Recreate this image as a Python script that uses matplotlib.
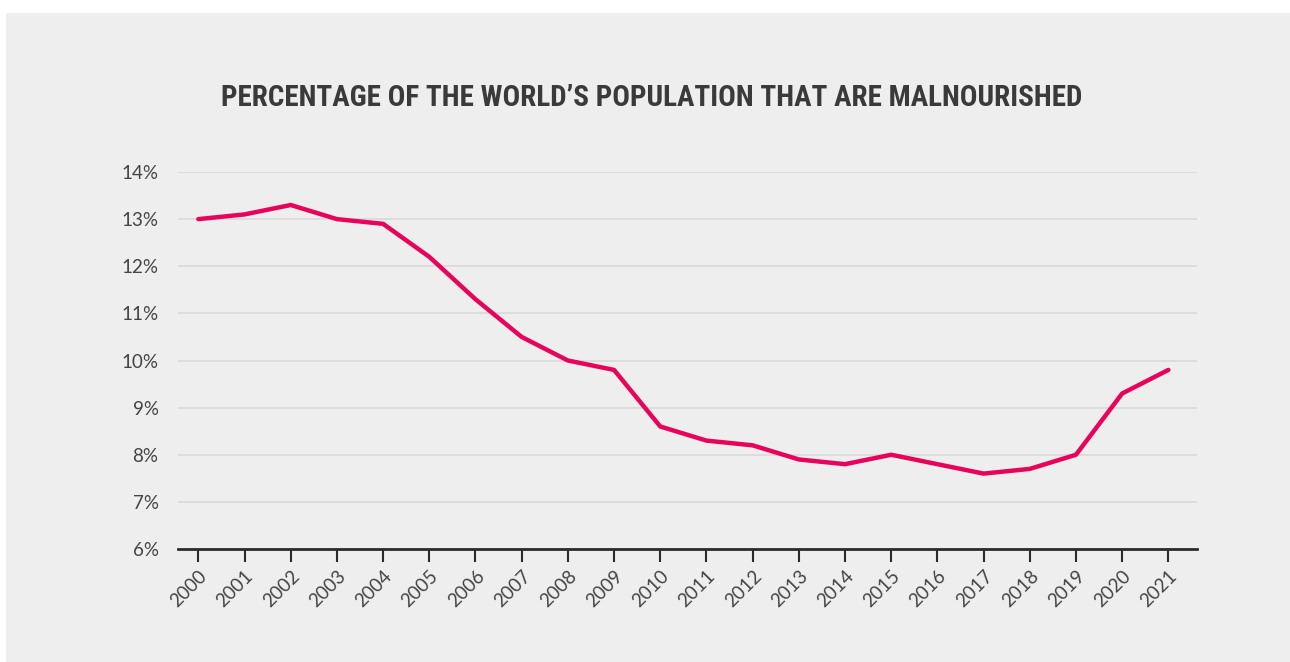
"""
Line chart: share of the world's population that is malnourished, 2000-2021.
"""

import matplotlib
matplotlib.use("Agg")
import matplotlib.pyplot as plt
from matplotlib.patches import Rectangle

years = list(range(2000, 2022))
malnourished_pct = [13.0, 13.1, 13.3, 13.0, 12.9, 12.2, 11.3, 10.5, 10.0, 9.8,
                    8.6, 8.3, 8.2, 7.9, 7.8, 8.0, 7.8, 7.6, 7.7, 8.0, 9.3, 9.8]
y_ticks = [6, 7, 8, 9, 10, 11, 12, 13, 14]
y_tick_labels = [f"{t}%" for t in y_ticks]
title = "PERCENTAGE OF THE WORLD\u2019S POPULATION THAT ARE MALNOURISHED"

W, H = 1290, 662
fig = plt.figure(figsize=(W / 100, H / 100), dpi=100, facecolor="white")

# grey panel behind everything
fig.patches.append(Rectangle((6 / W, 0), 1 - 6 / W, 1 - 13 / H,
                             transform=fig.transFigure, facecolor="#eeeeee",
                             edgecolor="none", zorder=-5))

ax = fig.add_axes([178 / W, 1 - 549 / H, (1197 - 178) / W, (549 - 172) / H])
ax.set_facecolor("none")
ax.set_zorder(2)

ax.plot(years, malnourished_pct, color="#e6055a", linewidth=3.2,
        solid_capstyle="round", solid_joinstyle="round", zorder=3)

ax.set_xlim(2000 - 0.44, 2021 + 0.62)
ax.set_ylim(6, 14)
ax.set_yticks(y_ticks)
ax.set_yticklabels(y_tick_labels)
ax.set_xticks(years)
ax.set_xticklabels([str(y) for y in years], rotation=45, ha="right",
                   rotation_mode="anchor")

ax.grid(axis="y", color="#d9d9d9", linewidth=1.2, zorder=1)
ax.set_axisbelow(True)
for side in ["top", "right", "left"]:
    ax.spines[side].set_visible(False)
ax.spines["bottom"].set_color("#2b2b2b")
ax.spines["bottom"].set_linewidth(2)
ax.spines["bottom"].set_zorder(4)

ax.tick_params(axis="y", length=0, pad=14, labelsize=13.5, labelcolor="#444444")
ax.tick_params(axis="x", length=9, width=1.5, color="#2b2b2b", pad=4,
               labelsize=13.5, labelcolor="#444444")
for lab in ax.get_xticklabels() + ax.get_yticklabels():
    lab.set_family(["Lato", "DejaVu Sans"])
    lab.set_fontweight("normal")

fig.text(652 / W, 1 - 98 / H, title, ha="center", va="center",
         family=["Roboto Condensed", "Roboto", "DejaVu Sans"],
         fontweight="bold", fontsize=21, color="#3a3a3a", zorder=3)

fig.savefig("out.png", dpi=100, facecolor=fig.get_facecolor())
